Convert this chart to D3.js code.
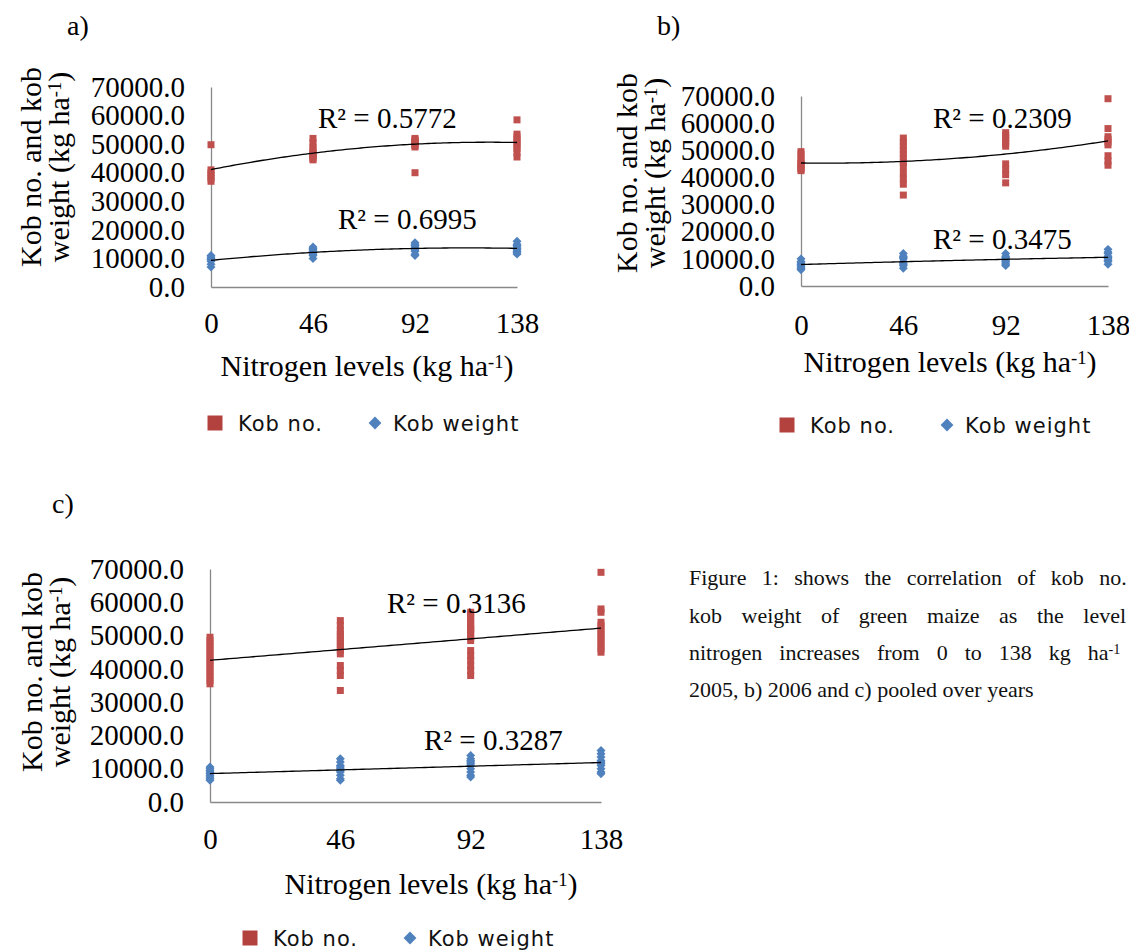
<!DOCTYPE html>
<html>
<head>
<meta charset="utf-8">
<script src="https://cdn.jsdelivr.net/npm/d3@7"></script>
<style>
  body { margin: 0; background: #fff; overflow: hidden; }
  svg { display: block; }
</style>
</head>
<body>
<script>
// Data
const nitrogenLevels = [0, 46, 92, 138];
const yTickValues = [0, 10000, 20000, 30000, 40000, 50000, 60000, 70000];
const seriesNames = ["Kob no.", "Kob weight"];
const panelLetters = ["a)", "b)", "c)"];

// a) 2005 - one list of values per nitrogen level
const kobNo2005 = [
    [49800, 41000, 40000, 39000, 38000, 37000],
    [52000, 50500, 49000, 48000, 47000, 46500, 46000, 45500, 45000, 44500],
    [52000, 51500, 51000, 51000, 50500, 50000, 49500, 49000, 40000],
    [58500, 53500, 52500, 51500, 50500, 49500, 48500, 47000, 45500]
];
const kobWeight2005 = [
    [11000, 10500, 10000, 9500, 9000, 8000, 7000],
    [14000, 13500, 13000, 12500, 12500, 12000, 11500, 11000, 10000],
    [15500, 15000, 14500, 14000, 13500, 13000, 12500, 11500, 11000],
    [16000, 15000, 14500, 14000, 13500, 13000, 12500, 12000, 11500]
];
const r2Text2005 = ["R\u00b2 = 0.5772", "R\u00b2 = 0.6995"];

// b) 2006
const kobNo2006 = [
    [49500, 48500, 47000, 46000, 45000, 44500, 43500, 43000, 42500],
    [54500, 53000, 51500, 50000, 48500, 47000, 45500, 44000, 41500, 39500, 37500, 33500],
    [56500, 55500, 54500, 53500, 52500, 51500, 45000, 43000, 41000, 38000],
    [69000, 58000, 55000, 54000, 53000, 52000, 48000, 46000, 44500]
];
const kobWeight2006 = [
    [10000, 9000, 8500, 8000, 7500, 7000, 6500, 6000],
    [12000, 11000, 10500, 10000, 9000, 8500, 8000, 7500, 6500],
    [12000, 11000, 10500, 10000, 9500, 9000, 8500, 8000, 7500],
    [13500, 12500, 12000, 11000, 10500, 10000, 9500, 9000, 8000]
];
const r2Text2006 = ["R\u00b2 = 0.2309", "R\u00b2 = 0.3475"];

// c) pooled over years
const kobNoPooled = [
    [49500, 48500, 47500, 46500, 45500, 44500, 43500, 42500, 41500, 40500, 39500, 38500, 37500, 36500, 35500],
    [54500, 53000, 51500, 50500, 49500, 48500, 47500, 46500, 45500, 44500, 41000, 39500, 38000, 33500],
    [57000, 56500, 55500, 54500, 53500, 52500, 52000, 51500, 50500, 49500, 48500, 45500, 44000, 42500, 41000, 39500, 38000],
    [69000, 58000, 57000, 54000, 53000, 52000, 51000, 50000, 49000, 48000, 47000, 46000, 45000]
];
const kobWeightPooled = [
    [10500, 10000, 9500, 9000, 8500, 8000, 7500, 7000, 6500],
    [13000, 12000, 11000, 10500, 10000, 9500, 9000, 8000, 7000, 6500],
    [14000, 13000, 12500, 12000, 11500, 11000, 10000, 9000, 8000, 7500],
    [15500, 14500, 13500, 12500, 12000, 11500, 11000, 10000, 9000, 8500]
];
const r2TextPooled = ["R\u00b2 = 0.3136", "R\u00b2 = 0.3287"];

const captionLines = [
    "Figure 1: shows the correlation of kob no. and",
    "kob weight of green maize as the level of",
    "nitrogen increases from 0 to 138 kg ha",
    "2005, b) 2006 and c) pooled over years"
];

// Styles
const red = "#C0504D",
      blue = "#4F81BD",
      axisColor = "#898989",
      serif = "'Liberation Serif', 'Times New Roman', serif",
      sans = "'DejaVu Sans', Verdana, sans-serif";

let svg = null;
let panels = null;

// Main Process
appendSvg("body");
setupPanels();
panels.forEach(drawPanel);
appendCaption();

function appendSvg(domElement) {
    svg = d3.select(domElement).append("svg")
            .attr("width", 1129)
            .attr("height", 952)
            .style("background", "#fff");
}

// Where each small chart sits on the page
function setupPanels() {
    panels = [
        {letter: panelLetters[0], kobNo: kobNo2005, kobWeight: kobWeight2005, r2: r2Text2005, order: 2,
         xRange: [211, 517], yRange: [287, 87], letterPos: [67, 35],
         titleX: [41, 69], titleY: 167, xTickPad: 25, xTitle: [367, 376],
         r2Pos: [[318, 128], [338, 229]], legend: [215, 423]},
        {letter: panelLetters[1], kobNo: kobNo2006, kobWeight: kobWeight2006, r2: r2Text2006, order: 2,
         xRange: [801, 1108], yRange: [286, 96], letterPos: [657, 35],
         titleX: [637, 665], titleY: 173, xTickPad: 28, xTitle: [950, 372],
         r2Pos: [[933, 128], [933, 249]], legend: [787, 425]},
        {letter: panelLetters[2], kobNo: kobNoPooled, kobWeight: kobWeightPooled, r2: r2TextPooled, order: 1,
         xRange: [210, 601], yRange: [802, 569], letterPos: [52, 513],
         titleX: [42, 70], titleY: 672, xTickPad: 26, xTitle: [431, 894],
         r2Pos: [[387, 613], [424, 750]], legend: [250, 938]}
    ];
}

// Turn the per-level lists into x/y points
function toPoints(groups) {
    let pts = [];
    groups.forEach(function(vals, i) {
        vals.forEach(function(v) {
            pts.push({x: nitrogenLevels[i], y: v});
        });
    });
    return pts;
}

// Least squares polynomial, same as an Excel trendline
function polyFit(points, order) {
    const n = order + 1;
    const A = d3.range(n).map(() => new Array(n + 1).fill(0));
    points.forEach(function(p) {
        for (let r = 0; r < n; r++) {
            for (let c = 0; c < n; c++) A[r][c] += Math.pow(p.x, r + c);
            A[r][n] += p.y * Math.pow(p.x, r);
        }
    });
    for (let i = 0; i < n; i++) {
        for (let k = i + 1; k < n; k++) {
            const f = A[k][i] / A[i][i];
            for (let j = i; j <= n; j++) A[k][j] -= f * A[i][j];
        }
    }
    const coef = new Array(n).fill(0);
    for (let i = n - 1; i >= 0; i--) {
        let s = A[i][n];
        for (let j = i + 1; j < n; j++) s -= A[i][j] * coef[j];
        coef[i] = s / A[i][i];
    }
    return coef;
}

function drawPanel(p) {
    const x = d3.scaleLinear().domain([0, 138]).range(p.xRange);
    const y = d3.scaleLinear().domain([0, 70000]).range(p.yRange);
    const g = svg.append("g");

    // panel letter
    g.append("text")
        .attr("x", p.letterPos[0]).attr("y", p.letterPos[1])
        .attr("font-family", serif).attr("font-size", 28)
        .text(p.letter);

    // Y axis
    const yAxis = g.append("g")
        .attr("transform", `translate(${p.xRange[0]},0)`)
        .call(d3.axisLeft(y).tickValues(yTickValues).tickSize(0).tickSizeOuter(0)
              .tickPadding(26).tickFormat(d3.format(".1f")));
    styleAxis(yAxis);

    // X axis
    const xAxis = g.append("g")
        .attr("transform", `translate(0,${p.yRange[0]})`)
        .call(d3.axisBottom(x).tickValues(nitrogenLevels).tickSize(0).tickSizeOuter(0)
              .tickPadding(p.xTickPad).tickFormat(d3.format("d")));
    styleAxis(xAxis);

    // axis titles
    g.append("text")
        .attr("transform", `translate(${p.titleX[0]},${p.titleY}) rotate(-90)`)
        .attr("text-anchor", "middle")
        .attr("font-family", serif).attr("font-size", 30)
        .text("Kob no. and kob");
    const t2 = g.append("text")
        .attr("transform", `translate(${p.titleX[1]},${p.titleY}) rotate(-90)`)
        .attr("text-anchor", "middle")
        .attr("font-family", serif).attr("font-size", 30);
    addUnit(t2, "weight (kg ha");

    const xt = g.append("text")
        .attr("x", p.xTitle[0]).attr("y", p.xTitle[1])
        .attr("text-anchor", "middle")
        .attr("font-family", serif).attr("font-size", 30);
    addUnit(xt, "Nitrogen levels (kg ha");

    // points and trend lines
    const series = [
        {pts: toPoints(p.kobNo), color: red, shape: "square"},
        {pts: toPoints(p.kobWeight), color: blue, shape: "diamond"}
    ];
    const diamond = d3.symbol().type(d3.symbolSquare).size(40);

    series.forEach(function(s, si) {
        if (s.shape === "square") {
            g.append("g").selectAll("rect").data(s.pts).enter().append("rect")
                .attr("x", d => x(d.x) - 3.5)
                .attr("y", d => y(d.y) - 3.5)
                .attr("width", 7).attr("height", 7)
                .attr("fill", s.color);
        } else {
            g.append("g").selectAll("path").data(s.pts).enter().append("path")
                .attr("d", diamond)
                .attr("transform", d => `translate(${x(d.x)},${y(d.y)}) rotate(45)`)
                .attr("fill", s.color);
        }

        const coef = polyFit(s.pts, p.order);
        const fitted = d3.range(0, 138.01, 1.38).map(function(xv) {
            return {x: xv, y: coef.reduce((acc, c, k) => acc + c * Math.pow(xv, k), 0)};
        });
        g.append("path")
            .datum(fitted)
            .attr("fill", "none")
            .attr("stroke", "#000")
            .attr("stroke-width", 1.3)
            .attr("d", d3.line().x(d => x(d.x)).y(d => y(d.y)));

        g.append("text")
            .attr("x", p.r2Pos[si][0]).attr("y", p.r2Pos[si][1])
            .attr("font-family", serif).attr("font-size", 29)
            .text(p.r2[si]);
    });

    appendLegend(g, p.legend[0], p.legend[1]);
}

function styleAxis(ax) {
    ax.attr("font-family", serif).attr("font-size", 29);
    ax.select(".domain").attr("stroke", axisColor).attr("stroke-width", 1.3);
    ax.selectAll("text").attr("fill", "#000");
}

// text followed by a superscript -1 and closing bracket
function addUnit(textSel, label) {
    textSel.append("tspan").text(label);
    textSel.append("tspan").attr("dy", "-0.45em").attr("font-size", "0.62em").text("-1");
    textSel.append("tspan").attr("dy", "0.28em").text(")");
}

function appendLegend(g, cx, cy) {
    g.append("rect")
        .attr("x", cx - 7.5).attr("y", cy - 7.5)
        .attr("width", 15).attr("height", 15)
        .attr("fill", "#B3423F");
    g.append("text")
        .attr("x", cx + 23).attr("y", cy + 8)
        .attr("font-family", sans).attr("font-size", 21)
        .attr("letter-spacing", 1)
        .attr("fill", "#111")
        .text(seriesNames[0]);
    g.append("path")
        .attr("d", d3.symbol().type(d3.symbolSquare).size(82))
        .attr("transform", `translate(${cx + 160},${cy}) rotate(45)`)
        .attr("fill", blue);
    g.append("text")
        .attr("x", cx + 178).attr("y", cy + 8)
        .attr("font-family", sans).attr("font-size", 21)
        .attr("letter-spacing", 1)
        .attr("fill", "#111")
        .text(seriesNames[1]);
}

// justified caption, cut off at the right edge like the source
function appendCaption() {
    const spacing = [9.8, 14, 11.5, 0];
    const baselines = [585, 623, 660, 697];
    captionLines.forEach(function(line, i) {
        const t = svg.append("text")
            .attr("x", 689).attr("y", baselines[i])
            .attr("font-family", serif).attr("font-size", 22)
            .attr("word-spacing", spacing[i])
            .attr("fill", "#111");
        if (i === 2) {
            t.append("tspan").text(line);
            t.append("tspan").attr("dy", "-0.45em").attr("font-size", "0.65em").text("-1");
            t.append("tspan").attr("dy", "0.45em").text(" in a)");
        } else {
            t.text(line);
        }
    });
}
</script>
</body>
</html>
